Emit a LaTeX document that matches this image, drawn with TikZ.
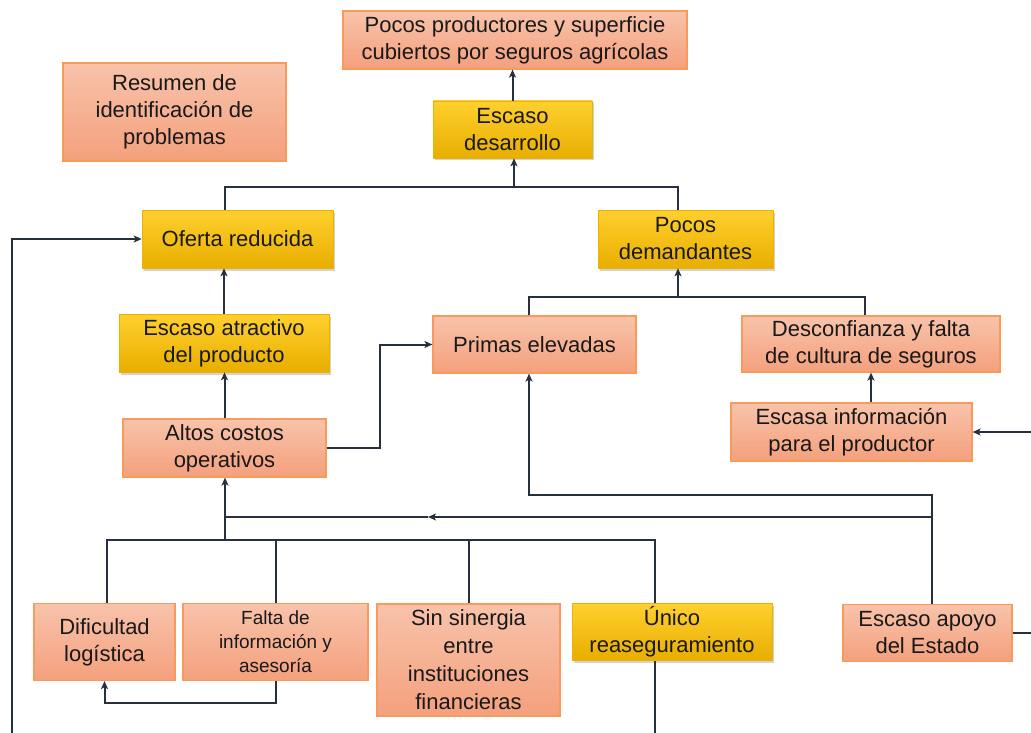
\documentclass[tikz,border=0pt]{standalone}
\usepackage{fontspec}
\setmainfont{Liberation Sans}
\usetikzlibrary{arrows.meta,shadows}
\definecolor{salT}{HTML}{F8C3AB}
\definecolor{salB}{HTML}{F4A07C}
\definecolor{salD}{HTML}{F79A5B}
\definecolor{yelT}{HTML}{FFD02E}
\definecolor{yelM}{HTML}{FFC000}
\definecolor{yelB}{HTML}{E8AE00}
\definecolor{yelD}{HTML}{EDB200}
\definecolor{lineC}{HTML}{27303E}
\begin{document}
\begin{tikzpicture}[x=1pt,y=-1pt,
 every node/.style={font=\fontsize{22}{27}\selectfont, align=center, inner sep=0pt, text=black!90},
 sal/.style={draw=salD, line width=1.2pt, top color=salT, bottom color=salB},
 yel/.style={draw=yelD, line width=0.6pt, top color=yelT, middle color=yelM, bottom color=yelB,
   drop shadow={shadow xshift=1.5pt, shadow yshift=-2.5pt, opacity=0.35}},
 conn/.style={draw=lineC, line width=2pt},
 arr/.style={conn, -{Stealth[length=8pt,width=7pt,inset=2pt]}},
]
\useasboundingbox (0,0) rectangle (1031,733);

% nodes
\node[sal, minimum width=344pt, minimum height=58pt] (top) at (515,40) {Pocos productores y superficie\\cubiertos por seguros agrícolas};
\node[sal, minimum width=223pt, minimum height=98pt] (resumen) at (174.5,112) {Resumen de\\identificación de\\problemas};
\node[yel, minimum width=159pt, minimum height=57pt] (desarrollo) at (512.5,129.5) {Escaso\\desarrollo};
\node[yel, minimum width=191pt, minimum height=58pt] (oferta) at (237.5,239) {Oferta reducida};
\node[yel, minimum width=175pt, minimum height=58pt] (demand) at (685.5,239) {Pocos\\demandantes};
\node[yel, minimum width=210pt, minimum height=58pt] (atractivo) at (224,343) {Escaso atractivo\\del producto};
\node[sal, minimum width=203pt, minimum height=58pt] (altos) at (224.5,448) {Altos costos\\operativos};
\node[sal, minimum width=203pt, minimum height=57pt] (primas) at (534.5,344.5) {Primas elevadas};
\node[sal, minimum width=258pt, minimum height=56pt] (desconf) at (871,344) {Desconfianza y falta\\de cultura de seguros};
\node[sal, minimum width=241pt, minimum height=58pt] (escasainfo) at (851.5,432) {Escasa información\\para el productor};
\node[sal, minimum width=141pt, minimum height=77pt] (dificultad) at (104.5,642) {Dificultad\\logística};
\node[sal, minimum width=185pt, minimum height=77pt, font=\fontsize{19}{24}\selectfont] (falta) at (275.5,642) {Falta de\\información y\\asesoría};
\node[sal, minimum width=183pt, minimum height=112pt, font=\fontsize{22}{28}\selectfont] (sinergia) at (468.5,660) {Sin sinergia\\entre\\instituciones\\financieras};
\node[yel, minimum width=200pt, minimum height=57pt] (unico) at (672,632) {Único\\reaseguramiento};
\node[sal, minimum width=169pt, minimum height=57pt] (apoyo) at (927.5,633) {Escaso apoyo\\del Estado};

% junction coordinates
\coordinate (j1) at (514,187);
\coordinate (jL) at (225,187);
\coordinate (jR) at (678,187);
\coordinate (j2) at (678,297);
\coordinate (j2a) at (529,297);
\coordinate (j2b) at (865,297);
\coordinate (k1) at (380,448);
\coordinate (e1) at (1031,432);
\coordinate (a1) at (932,495);
\coordinate (a2) at (932,517);
\coordinate (p1) at (529,495);
\coordinate (c1) at (225,517);
\coordinate (c2) at (225,540);
\coordinate (c3) at (428,517);
\coordinate (b1) at (107,540);
\coordinate (b4) at (655,540);
\coordinate (f1) at (276,703);
\coordinate (u1) at (655,733);
\coordinate (r1) at (1031,631);
\coordinate (l1) at (12,733);
\coordinate (l2) at (12,239);

% connectors
\draw[arr] (desarrollo.north) -- (desarrollo.north |- top.south);
\draw[arr] (j1) -- (j1 |- desarrollo.south);
\draw[conn] (jL |- oferta.north) -- (jL) -- (jR) -- (jR |- demand.north);
\draw[arr] (atractivo.north) -- (atractivo.north |- oferta.south);
\draw[arr] (altos.north) -- (altos.north |- atractivo.south);
\draw[arr] (altos.east) -- (k1) |- (primas.west);
\draw[arr] (j2) -- (j2 |- demand.south);
\draw[conn] (j2a |- primas.north) -- (j2a) -- (j2b) -- (j2b |- desconf.north);
\draw[arr] (desconf.south |- escasainfo.north) -- (desconf.south);
\draw[arr] (e1) -- (e1 -| escasainfo.east);
\draw[arr] (a1 |- apoyo.north) -- (a1) -- (p1) -- (p1 |- primas.south);
\draw[arr] (a2) -- (c3);
\draw[conn] (c3) -- (c1);
\draw[arr] (c2) -- (c2 |- altos.south);
\draw[conn] (b1 |- dificultad.north) -- (b1) -- (b4) -- (b4 |- unico.north);
\draw[conn] (falta.north) -- (falta.north |- b1);
\draw[conn] (sinergia.north) -- (sinergia.north |- b1);
\draw[arr] (falta.south) -- (falta.south |- f1) -| (dificultad.south);
\draw[conn] (u1 |- unico.south) -- (u1);
\draw[conn] (apoyo.east) -- (apoyo.east -| r1);
\draw[arr] (l1) -- (l2) -- (l2 -| oferta.west);
\end{tikzpicture}
\end{document}
